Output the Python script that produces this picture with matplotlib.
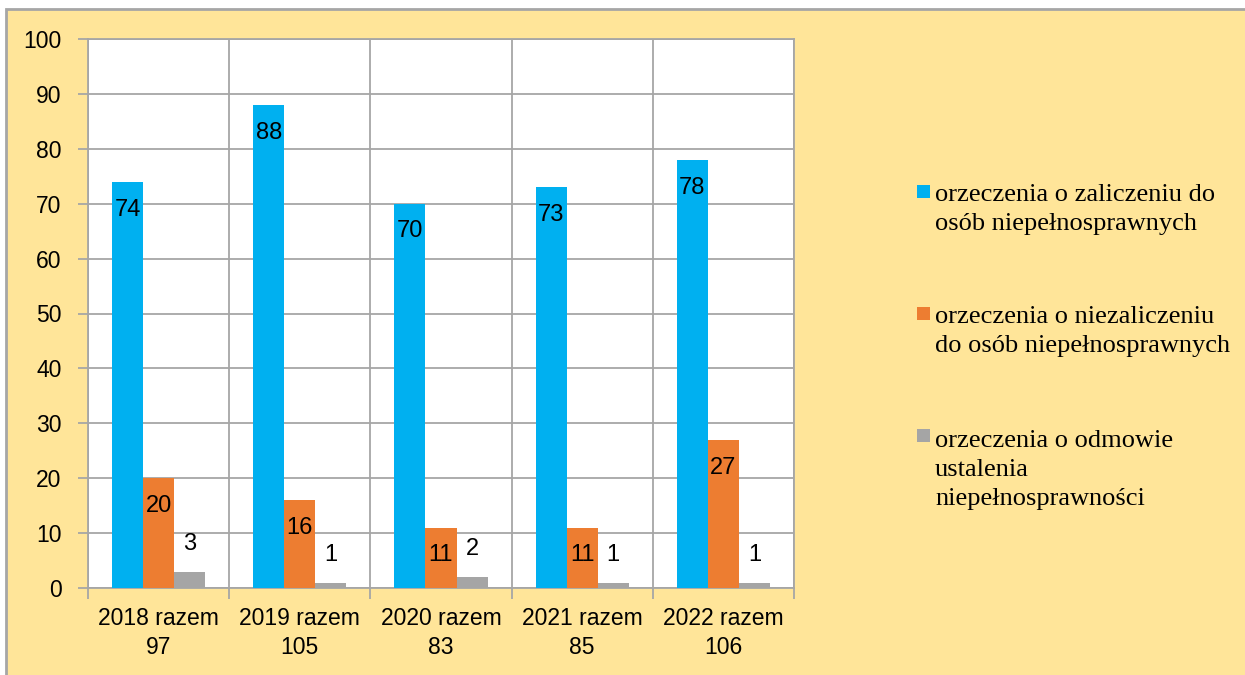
import matplotlib
matplotlib.use('Agg')
import matplotlib.pyplot as plt
from matplotlib.patches import Rectangle
import numpy as np

categories = ['2018 razem\n97', '2019 razem\n105', '2020 razem\n83', '2021 razem\n85', '2022 razem\n106']
zaliczenie = [74, 88, 70, 73, 78]
niezaliczenie = [20, 16, 11, 11, 27]
odmowa = [3, 1, 2, 1, 1]
series_names = ['orzeczenia o zaliczeniu do\nosób niepełnosprawnych',
                'orzeczenia o niezaliczeniu\ndo osób niepełnosprawnych',
                'orzeczenia o odmowie\nustalenia\nniepełnosprawności']
colors = ['#00B0F0', '#ED7D31', '#A5A5A5']
y_ticks = list(range(0, 101, 10))

plt.rcParams['font.family'] = ['Liberation Sans', 'DejaVu Sans']

W, H = 1245, 675
fig = plt.figure(figsize=(W / 100, H / 100), dpi=100)
fig.patch.set_facecolor('white')
fig.patches.append(Rectangle((6 / W, -0.01), 1.0, 1 - 9 / H + 0.01, transform=fig.transFigure,
                             facecolor='#FFE599', edgecolor='#A6A6A6', linewidth=2, zorder=-10))

ax = fig.add_axes([88 / W, 1 - 588 / H, (794 - 88) / W, (588 - 39) / H])
ax.set_facecolor('white')
ax.set_zorder(1)

x = np.arange(len(categories))
bw = 0.22
series = [zaliczenie, niezaliczenie, odmowa]
offsets = [-bw, 0, bw]
for vals, off, col in zip(series, offsets, colors):
    ax.bar(x + off, vals, width=bw, color=col, zorder=3)

for vals, off, inside in zip(series, offsets, [True, True, False]):
    for xi, v in zip(x, vals):
        ax.annotate(str(v), (xi + off, v), xytext=(0, -20 if inside else 20),
                    textcoords='offset points', ha='center', va='center',
                    fontsize=17, color='black', zorder=4)

ax.set_xlim(-0.5, len(categories) - 0.5)
ax.set_ylim(0, 100)
ax.set_yticks(y_ticks)
ax.set_xticks(x)
ax.set_xticklabels(categories, fontsize=16.5, linespacing=1.3)
ax.set_xticks(np.arange(-0.5, len(categories), 1), minor=True)
ax.tick_params(axis='y', labelsize=16.5, length=7, width=1.3, color='#A6A6A6', pad=12)
ax.tick_params(axis='x', which='major', length=0, pad=14)
ax.tick_params(axis='x', which='minor', length=8, width=1.3, color='#A6A6A6')

ax.yaxis.grid(True, color='#A6A6A6', lw=1.3, zorder=0)
ax.xaxis.grid(True, which='minor', color='#A6A6A6', lw=1.3, zorder=0)
ax.xaxis.grid(False, which='major')
ax.set_axisbelow(True)
for s in ax.spines.values():
    s.set_color('#A6A6A6')
    s.set_linewidth(1.3)

# legend (square aligned with first line, text baseline given for last line)
first_base = [200, 322, 444]
last_base = [230, 352, 505]
for name, col, yf, yl in zip(series_names, colors, first_base, last_base):
    fig.patches.append(Rectangle((917 / W, 1 - (yf - 2) / H), 13 / W, 13 / H,
                                 transform=fig.transFigure, facecolor=col, edgecolor='none'))
    fig.text(935 / W, 1 - yl / H, name, va='baseline', ha='left', fontsize=19,
             family=['Liberation Serif', 'DejaVu Serif'], linespacing=1.4)

fig.savefig('out.png', dpi=100, facecolor=fig.get_facecolor())
